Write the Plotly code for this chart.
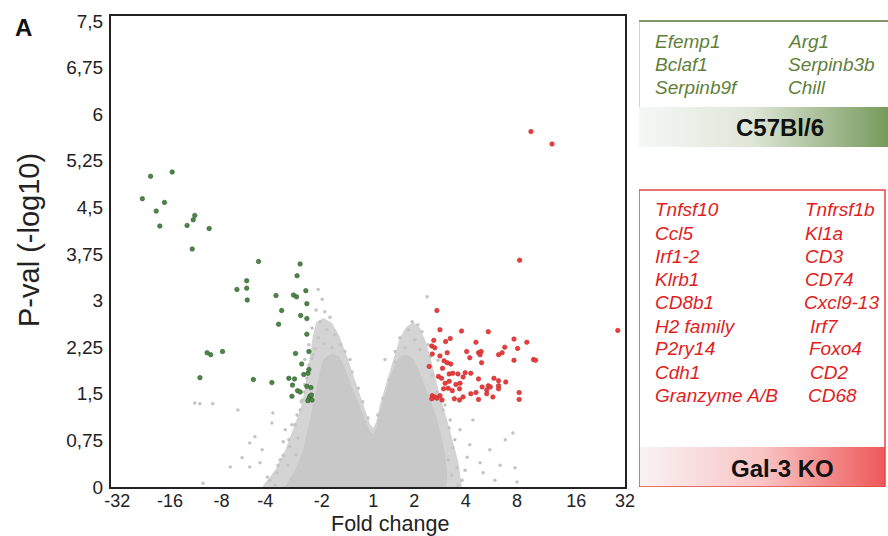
import plotly.graph_objects as go

# ---------------- data ----------------
FOLD_LABELS = ['-32', '-16', '-8', '-4', '-2', '1', '2', '4', '8', '16', '32']
PVAL_LABELS = ['0', '0,75', '1,5', '2,25', '3', '3,75', '4,5', '5,25', '6', '6,75', '7,5']
PVAL_TICKS = [0, 0.75, 1.5, 2.25, 3, 3.75, 4.5, 5.25, 6, 6.75, 7.5]

# x = fold-change index on the axis (0 = -32 ... 10 = 32), y = -log10 p
green_x = [1.19, 0.77, 0.61, 1.04, 0.88, 0.95, 1.63, 1.60, 1.48, 1.91, 1.58, 2.87, 3.68, 3.62,
           2.64, 2.45, 2.64, 2.65, 3.21, 3.55, 3.61, 3.79, 3.81, 3.32, 3.69, 3.81, 3.26, 3.81,
           1.87, 1.94, 2.17, 3.59, 3.85, 3.71, 3.85, 3.75, 3.83, 1.73, 2.77, 3.13, 3.46, 3.57,
           3.53, 3.81, 3.89, 3.63, 3.68, 3.87, 3.85, 3.52, 3.90, 3.83, 3.91]
green_y = [5.07, 5.00, 4.64, 4.58, 4.44, 4.20, 4.37, 4.30, 4.21, 4.16, 3.83, 3.63, 3.59, 3.40,
           3.32, 3.18, 3.20, 3.01, 3.08, 3.09, 3.06, 3.16, 2.95, 2.84, 2.76, 2.71, 2.62, 2.46,
           2.16, 2.13, 2.18, 2.15, 2.18, 1.98, 1.89, 1.81, 1.83, 1.76, 1.73, 1.68, 1.75, 1.74,
           1.64, 1.62, 1.60, 1.55, 1.53, 1.46, 1.42, 1.46, 1.48, 1.39, 1.40]

red_x = [8.17, 8.58, 7.95, 6.34, 6.40, 6.82, 7.34, 9.86, 6.28, 6.51, 6.60, 7.10, 7.84, 8.09,
         6.24, 6.30, 7.66, 7.91, 6.25, 6.40, 6.54, 6.92, 7.15, 7.20, 7.18, 7.54, 7.61, 6.98,
         6.48, 6.54, 6.61, 7.21, 7.84, 8.22, 8.26, 6.19, 6.45, 6.58, 6.65, 6.75, 6.89, 7.00,
         6.37, 6.43, 6.85, 7.15, 7.45, 7.54, 7.68, 6.50, 6.58, 6.71, 6.79, 7.34, 7.38, 7.54,
         7.22, 6.47, 6.56, 6.64, 6.78, 7.54, 7.31, 6.25, 6.30, 6.34, 6.40, 6.44, 6.68, 6.78,
         6.85, 7.00, 7.10, 7.15, 7.31, 7.43, 7.94, 7.94, 6.24]
red_y = [5.72, 5.52, 3.65, 2.84, 2.53, 2.51, 2.50, 2.52, 2.36, 2.34, 2.39, 2.33, 2.38, 2.33,
         2.27, 2.24, 2.25, 2.23, 2.14, 2.11, 2.16, 2.18, 2.16, 2.18, 2.13, 2.13, 2.16, 2.08,
         2.03, 2.00, 1.98, 2.00, 2.04, 2.05, 2.04, 1.94, 1.91, 1.82, 1.83, 1.82, 1.84, 1.83,
         1.78, 1.75, 1.77, 1.74, 1.75, 1.71, 1.69, 1.67, 1.70, 1.65, 1.67, 1.63, 1.61, 1.63,
         1.61, 1.58, 1.59, 1.55, 1.58, 1.58, 1.56, 1.47, 1.45, 1.43, 1.47, 1.40, 1.42, 1.40,
         1.45, 1.50, 1.52, 1.41, 1.50, 1.45, 1.52, 1.41, 1.42]

# non-significant genes: outline of the dense cloud (outer fringe and inner core)
cloud_outer_x = [2.94, 3.19, 3.39, 3.54, 3.68, 3.77, 3.83, 3.89, 3.93, 3.99, 4.14, 4.30, 4.44,
                 4.55, 4.65, 4.75, 4.84, 4.96, 5.04, 5.10, 5.16, 5.23, 5.33, 5.43, 5.53, 5.62,
                 5.74, 5.88, 6.01, 6.13, 6.23, 6.32, 6.42, 6.54, 6.65, 6.75, 6.83]
cloud_outer_y = [0, 0.27, 0.59, 0.92, 1.24, 1.56, 1.88, 2.20, 2.44, 2.65, 2.72, 2.64, 2.44,
                 2.20, 1.96, 1.72, 1.48, 1.21, 1.01, 0.95, 1.05, 1.32, 1.59, 1.85, 2.12, 2.40,
                 2.57, 2.65, 2.56, 2.33, 2.04, 1.72, 1.40, 1.08, 0.76, 0.43, 0]
cloud_core_x = [3.39, 3.58, 3.74, 3.83, 3.91, 3.99, 4.05, 4.11, 4.20, 4.32, 4.44, 4.53, 4.63,
                4.75, 4.86, 4.96, 5.04, 5.10, 5.16, 5.23, 5.33, 5.43, 5.53, 5.62, 5.74, 5.86,
                5.97, 6.09, 6.21, 6.32, 6.42, 6.50, 6.54, 6.52]
cloud_core_y = [0, 0.27, 0.60, 0.92, 1.24, 1.56, 1.81, 2.02, 2.11, 2.15, 2.10, 1.95, 1.73,
                1.48, 1.24, 1.03, 0.89, 0.85, 0.95, 1.21, 1.48, 1.76, 1.97, 2.10, 2.13, 2.08,
                1.92, 1.65, 1.40, 1.16, 0.84, 0.52, 0.19, 0]
# scattered non-significant genes around the cloud
gray_x = [4.03, 4.11, 3.99, 4.16, 4.07, 4.26, 3.91, 4.20, 4.36, 4.03, 3.85, 4.14, 4.46, 3.93,
          4.30, 4.55, 3.77, 4.65,
          1.63, 1.73, 1.98, 2.47, 3.15, 3.13, 2.80, 2.70, 2.55, 2.32, 2.70, 2.90, 1.79, 3.04,
          3.23, 3.35, 3.29, 3.48, 3.58, 3.68, 3.72, 3.77, 3.64, 3.44, 3.19, 3.52, 2.94, 3.39,
          3.60,
          6.15, 5.86, 5.97, 5.78, 6.05, 5.62, 5.91, 6.17, 5.72, 6.01, 5.53, 6.21, 5.33,
          7.82, 7.86, 7.90, 7.18, 7.24, 6.93, 7.04, 6.60, 6.69, 6.79, 6.56, 6.63, 6.75, 6.89,
          6.98, 7.37, 7.47, 7.57, 6.50, 6.40, 7.67,
          3.09, 3.25, 3.35, 3.46, 3.52, 3.62, 3.70, 3.76, 3.81, 3.85, 3.91, 3.97,
          4.69, 4.81, 4.90, 5.00, 5.19, 5.29, 5.41, 5.53,
          6.25, 6.34, 6.46, 6.58, 6.65, 6.73, 6.83, 6.36]
gray_y = [3.18, 3.02, 2.85, 2.82, 2.66, 2.73, 2.56, 2.53, 2.45, 2.40, 2.29, 2.31, 2.29, 2.13,
          2.24, 2.18, 2.05, 2.05,
          1.35, 1.34, 1.34, 1.24, 1.19, 1.03, 0.81, 0.71, 0.47, 0.32, 0.32, 0.39, 0.06, 0.16,
          0.23, 0.73, 0.44, 0.65, 1.00, 1.24, 1.40, 1.65, 0.79, 0.35, 0.03, 0.11, 0.60, 0.92,
          0.52,
          3.06, 2.66, 2.61, 2.53, 2.50, 2.40, 2.37, 2.29, 2.24, 2.21, 2.18, 2.10, 2.05,
          0.87, 0.31, 0.08, 0.39, 0.23, 0.48, 1.08, 1.08, 0.76, 0.92, 0.44, 0.19, 0.03, 0.27,
          0.68, 0.60, 0.11, 0.35, 1.32, 1.48, 0.76,
          0.11, 0.35, 0.51, 0.76, 1.00, 1.16, 1.37, 1.53, 1.75, 1.96, 2.07, 2.23,
          1.85, 1.59, 1.37, 1.11, 1.16, 1.43, 1.72, 2.01,
          1.80, 1.53, 1.24, 0.95, 0.63, 0.31, 0.11, 2.04]

WT_GENES_COL1 = ['Efemp1', 'Bclaf1', 'Serpinb9f']
WT_GENES_COL2 = ['Arg1', 'Serpinb3b', 'Chill']
KO_GENES_COL1 = ['Tnfsf10', 'Ccl5', 'Irf1-2', 'Klrb1', 'CD8b1', 'H2 family', 'P2ry14', 'Cdh1',
                 'Granzyme A/B']
KO_GENES_COL2 = ['Tnfrsf1b', 'Kl1a', 'CD3', 'CD74', 'Cxcl9-13', 'Irf7', 'Foxo4', 'CD2', 'CD68']
WT_LABEL = 'C57Bl/6'
KO_LABEL = 'Gal-3 KO'
X_TITLE = 'Fold change'
Y_TITLE = 'P-val (-log10)'

# ---------------- figure ----------------
FONT = 'Liberation Sans, Arial, sans-serif'
W, H = 888, 536
ML, MR, MT, MB = 111, 0, 16, 49
plot_w = W - ML - MR
plot_h = H - MT - MB
main_frac = 514 / plot_w
panel_start = (639 - ML) / plot_w


def px_to_paper(px, py):
    return (px - ML) / plot_w, (H - MB - py) / plot_h


fig = go.Figure()

fig.add_trace(go.Scatter(x=cloud_outer_x, y=cloud_outer_y, fill='toself', mode='lines',
                         line=dict(width=0), fillcolor='#d4d4d4', hoverinfo='skip',
                         showlegend=False))
fig.add_trace(go.Scatter(x=cloud_core_x, y=cloud_core_y, fill='toself', mode='lines',
                         line=dict(width=0), fillcolor='#c8c8c8', hoverinfo='skip',
                         showlegend=False))
fig.add_trace(go.Scatter(x=gray_x, y=gray_y, mode='markers',
                         marker=dict(size=3.5, color='#c4c4c4'), showlegend=False))
fig.add_trace(go.Scatter(x=green_x, y=green_y, mode='markers',
                         marker=dict(size=4.5, color='#4d8748',
                                     line=dict(width=0.6, color='#2f5a2c')),
                         showlegend=False))
fig.add_trace(go.Scatter(x=red_x, y=red_y, mode='markers',
                         marker=dict(size=4.5, color='#ee3b3b',
                                     line=dict(width=0.6, color='#b83030')),
                         showlegend=False))

# legend panels on a helper axis in pixel-like units
fig.add_trace(go.Scatter(x=[639, 888, 888, 639, 639], y=[107, 107, 147, 147, 107],
                         xaxis='x2', yaxis='y2', mode='lines', line=dict(width=0),
                         fill='toself',
                         fillgradient=dict(type='horizontal',
                                           colorscale=[[0, '#f5f7f6'], [0.45, '#dfe7d8'],
                                                       [1, '#769a5c']]),
                         hoverinfo='skip', showlegend=False))
fig.add_trace(go.Scatter(x=[639, 885, 885, 639, 639], y=[447, 447, 487, 487, 447],
                         xaxis='x2', yaxis='y2', mode='lines', line=dict(width=0),
                         fill='toself',
                         fillgradient=dict(type='horizontal',
                                           colorscale=[[0, '#f9f3f4'], [0.5, '#f9c4c4'],
                                                       [1, '#ee5858']]),
                         hoverinfo='skip', showlegend=False))

shapes = [
    dict(type='line', xref='x2', yref='y2', x0=639, x1=888, y0=21, y1=21,
         line=dict(color='#7f9868', width=2)),
    dict(type='line', xref='x2', yref='y2', x0=639, x1=639, y0=21, y1=107,
         line=dict(color='#9bb08a', width=1)),
    dict(type='rect', xref='x2', yref='y2', x0=639, x1=885, y0=190, y1=487,
         line=dict(color='#e04848', width=1.5)),
]

GENE_SIZE = 19
annotations = []
green_rows = [41, 64, 87]
for col_x, genes in ((653, WT_GENES_COL1), (786, WT_GENES_COL2)):
    for i, g in enumerate(genes):
        annotations.append(dict(x=col_x, y=green_rows[i], text='<i>' + g + '</i>',
                                xref='x2', yref='y2', xanchor='left', yanchor='middle',
                                showarrow=False,
                                font=dict(family=FONT, size=GENE_SIZE, color='#5f7f3a')))
red_rows = [209, 233, 256, 279, 302, 326, 348, 372, 395]
red_col2_x = [803, 803, 803, 803, 802, 808, 807, 808, 806]
for i, g in enumerate(KO_GENES_COL1):
    annotations.append(dict(x=653, y=red_rows[i], text='<i>' + g + '</i>', xref='x2',
                            yref='y2', xanchor='left', yanchor='middle', showarrow=False,
                            font=dict(family=FONT, size=GENE_SIZE, color='#e01e1e')))
for i, g in enumerate(KO_GENES_COL2):
    annotations.append(dict(x=red_col2_x[i], y=red_rows[i], text='<i>' + g + '</i>',
                            xref='x2', yref='y2', xanchor='left', yanchor='middle',
                            showarrow=False,
                            font=dict(family=FONT, size=GENE_SIZE, color='#e01e1e')))

annotations.append(dict(x=780, y=127, text='<b>' + WT_LABEL + '</b>', xref='x2', yref='y2',
                        showarrow=False, xanchor='center', yanchor='middle',
                        font=dict(family=FONT, size=24, color='#111111')))
annotations.append(dict(x=782, y=468, text='<b>' + KO_LABEL + '</b>', xref='x2', yref='y2',
                        showarrow=False, xanchor='center', yanchor='middle',
                        font=dict(family=FONT, size=24, color='#111111')))
ax, ay = px_to_paper(23, 27)
annotations.append(dict(x=ax, y=ay, xref='paper', yref='paper', text='<b>A</b>',
                        showarrow=False, xanchor='center', yanchor='middle',
                        font=dict(family=FONT, size=24, color='#111111')))
tx, ty = px_to_paper(390, 523.5)
annotations.append(dict(x=tx, y=ty, xref='paper', yref='paper', text=X_TITLE,
                        showarrow=False, xanchor='center', yanchor='middle',
                        font=dict(family=FONT, size=21.5, color='#222222')))
vx, vy = px_to_paper(29, 240)
annotations.append(dict(x=vx, y=vy, xref='paper', yref='paper', text=Y_TITLE,
                        showarrow=False, xanchor='center', yanchor='middle', textangle=-90,
                        font=dict(family=FONT, size=29, color='#222222')))

fig.update_layout(
    width=W, height=H, autosize=False,
    margin=dict(l=ML, r=MR, t=MT, b=MB, autoexpand=False),
    paper_bgcolor='white', plot_bgcolor='white',
    font=dict(family=FONT, size=18, color='#222222'),
    xaxis=dict(domain=[0, main_frac], range=[0, 10],
               tickvals=[0.12, 1.15, 2.15, 3.0, 4.1, 5.1, 5.9, 6.9, 7.9, 9.05, 10],
               ticktext=FOLD_LABELS, showgrid=False, zeroline=False, automargin=False,
               showline=True, mirror=True, linecolor='#222222', linewidth=2, ticks='',
               ticklabelstandoff=-4,
               tickfont=dict(size=18, color='#222222')),
    yaxis=dict(range=[0, 7.58], tickvals=PVAL_TICKS, ticktext=PVAL_LABELS,
               showgrid=False, zeroline=False, showline=True, mirror=True, automargin=False,
               linecolor='#222222', linewidth=2, ticks='', ticklabelstandoff=2,
               tickfont=dict(size=19, color='#222222')),
    xaxis2=dict(domain=[panel_start, 1], range=[639, 888], visible=False, anchor='y2'),
    yaxis2=dict(domain=[0, 1], range=[487, 16], visible=False, anchor='x2'),
    shapes=shapes,
    annotations=annotations,
)

fig.write_html('out.html',
               config={'responsive': False, 'displayModeBar': False},
               post_script="document.body.style.margin='0px';"
                           "document.documentElement.style.overflow='hidden';"
                           "var gd=document.getElementById('{plot_id}');"
                           "Plotly.relayout(gd,{width:888,height:536});")
